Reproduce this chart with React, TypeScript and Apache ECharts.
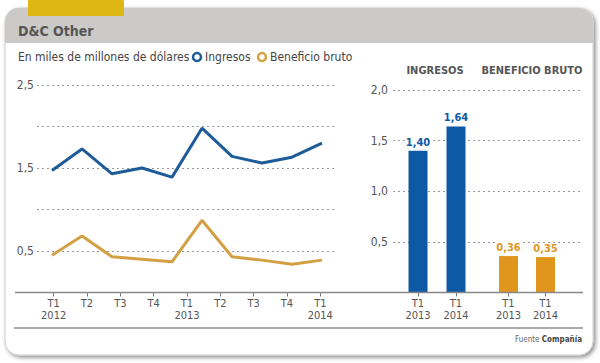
import React, { useEffect, useRef } from "react";
import * as echarts from "echarts";

const dataQuarters = ["T1 2012", "T2 2012", "T3 2012", "T4 2012", "T1 2013", "T2 2013", "T3 2013", "T4 2013", "T1 2014", "T2 2014"];
const tickLabels = ["T1\n2012", "T2", "T3", "T4", "T1\n2013", "T2", "T3", "T4", "T1\n2014"];
const ingresos = [1.47, 1.73, 1.43, 1.5, 1.39, 1.98, 1.64, 1.56, 1.63, 1.8];
const beneficio = [0.45, 0.68, 0.43, 0.4, 0.37, 0.87, 0.43, 0.39, 0.34, 0.39];
const barCats = ["T1\n2013", "T1\n2014"];
const barIngresos = [1.4, 1.64];
const barBeneficio = [0.36, 0.35];
const lineTicks = [2.5, 1.5, 0.5];

const FONT = "'Liberation Sans Narrow', 'DejaVu Sans Condensed', 'Roboto', sans-serif";
const BLUE_LINE = "#1d5c98";
const GOLD_LINE = "#d3a043";
const BLUE_BAR = "#0e59a6";
const GOLD_BAR = "#e0961c";
const TXT = "#555";

const fmt = (v: number, d: number) => v.toFixed(d).replace(".", ",");

export default function App() {
  const ref = useRef<HTMLDivElement>(null);
  useEffect(() => {
    if (!ref.current) return;
    const chart = echarts.init(ref.current, null, { renderer: "svg" });
    const splitLine = { show: true, lineStyle: { color: "#999", type: [2, 3] as any, width: 1 } };
    const xLabel = { color: TXT, fontSize: 11, lineHeight: 12, fontFamily: FONT, margin: 5 };
    const xTick = { show: true, alignWithLabel: true, length: 4, lineStyle: { color: "#777" } };
    chart.setOption({
      animation: false,
      textStyle: { fontFamily: FONT },
      grid: [
        { left: 37, right: 263, top: 85, bottom: 70.5 },
        { left: 393, right: 20, top: 90, bottom: 70.5 },
        { left: 399, right: 125, top: 90, bottom: 70.5 },
        { left: 490, right: 36, top: 90, bottom: 70.5 },
      ],
      xAxis: [
        { type: "category", gridIndex: 0, data: tickLabels, boundaryGap: true, axisLine: { show: false }, axisTick: xTick, axisLabel: xLabel },
        { type: "category", gridIndex: 0, data: dataQuarters, boundaryGap: true, show: false },
        { type: "value", gridIndex: 1, show: false },
        { type: "category", gridIndex: 2, data: barCats, boundaryGap: true, axisLine: { show: false }, axisTick: xTick, axisLabel: xLabel },
        { type: "category", gridIndex: 3, data: barCats, boundaryGap: true, axisLine: { show: false }, axisTick: xTick, axisLabel: xLabel },
      ],
      yAxis: [
        {
          type: "value", gridIndex: 0, min: 0, max: 2.5, interval: 0.5,
          axisLine: { show: false }, axisTick: { show: false }, splitLine,
          axisLabel: { color: TXT, fontSize: 12, fontFamily: FONT, margin: 3, formatter: (v: number) => (lineTicks.some((t) => Math.abs(t - v) < 1e-6) ? fmt(v, 1) : "") },
        },
        {
          type: "value", gridIndex: 1, min: 0, max: 2, interval: 0.5,
          axisLine: { show: false }, axisTick: { show: false }, splitLine,
          axisLabel: { color: TXT, fontSize: 12, fontFamily: FONT, margin: 5, formatter: (v: number) => (v === 0 ? "" : fmt(v, 1)) },
        },
        { type: "value", gridIndex: 2, min: 0, max: 2, show: false, splitLine: { show: false } },
        { type: "value", gridIndex: 3, min: 0, max: 2, show: false, splitLine: { show: false } },
      ],
      series: [
        { name: "Ingresos", type: "line", xAxisIndex: 1, yAxisIndex: 0, data: ingresos, symbol: "none", lineStyle: { color: BLUE_LINE, width: 3 }, itemStyle: { color: BLUE_LINE }, z: 3 },
        { name: "Beneficio bruto", type: "line", xAxisIndex: 1, yAxisIndex: 0, data: beneficio, symbol: "none", lineStyle: { color: GOLD_LINE, width: 3 }, itemStyle: { color: GOLD_LINE }, z: 3 },
        {
          name: "Ingresos T1", type: "bar", xAxisIndex: 3, yAxisIndex: 2, data: barIngresos, barWidth: 19, itemStyle: { color: BLUE_BAR },
          label: { show: true, position: "top", distance: 3, color: BLUE_BAR, fontWeight: "bold", fontSize: 11, fontFamily: FONT, backgroundColor: "#fff", padding: [0, 1], formatter: (p: any) => fmt(p.value, 2) },
        },
        {
          name: "Beneficio T1", type: "bar", xAxisIndex: 4, yAxisIndex: 3, data: barBeneficio, barWidth: 19, itemStyle: { color: GOLD_BAR },
          label: { show: true, position: "top", distance: 3, color: GOLD_BAR, fontWeight: "bold", fontSize: 11, fontFamily: FONT, backgroundColor: "#fff", padding: [0, 1], formatter: (p: any) => fmt(p.value, 2) },
        },
      ],
      graphic: [
        { type: "rect", z: -20, shape: { x: 5, y: 8, width: 588, height: 347, r: 14 }, style: { fill: "#fff", stroke: "#d0d0d0", lineWidth: 1, shadowBlur: 4, shadowOffsetX: 2, shadowOffsetY: 2, shadowColor: "rgba(0,0,0,0.45)" } },
        { type: "rect", z: -19, shape: { x: 5, y: 8, width: 588, height: 35, r: [14, 14, 0, 0] }, style: { fill: "#cbcac8" } },
        { type: "rect", z: -18, shape: { x: 28, y: 0, width: 96, height: 16 }, style: { fill: "#dfb714" } },
        { type: "text", x: 18, y: 31, style: { text: "D&C Other", fill: "#555", font: `bold 14px ${FONT}`, textVerticalAlign: "middle" } },
        { type: "text", x: 18, y: 57, style: { text: "En miles de millones de dólares", fill: "#444", font: `12px ${FONT}`, textVerticalAlign: "middle" } },
        { type: "circle", shape: { cx: 197, cy: 57, r: 4 }, style: { fill: "#fff", stroke: BLUE_LINE, lineWidth: 2.5 } },
        { type: "text", x: 205, y: 57, style: { text: "Ingresos", fill: "#444", font: `12px ${FONT}`, textVerticalAlign: "middle" } },
        { type: "circle", shape: { cx: 262, cy: 57, r: 4 }, style: { fill: "#fff", stroke: GOLD_LINE, lineWidth: 2.5 } },
        { type: "text", x: 270, y: 57, style: { text: "Beneficio bruto", fill: "#444", font: `12px ${FONT}`, textVerticalAlign: "middle" } },
        { type: "text", x: 435, y: 70, style: { text: "INGRESOS", fill: "#555", font: `bold 11px ${FONT}`, textAlign: "center", textVerticalAlign: "middle" } },
        { type: "text", x: 532, y: 70, style: { text: "BENEFICIO BRUTO", fill: "#555", font: `bold 11px ${FONT}`, textAlign: "center", textVerticalAlign: "middle" } },
        { type: "line", z: 5, shape: { x1: 15, y1: 292.5, x2: 583, y2: 292.5 }, style: { stroke: "#888", lineWidth: 1.5 } },
        { type: "line", shape: { x1: 14, y1: 328, x2: 583, y2: 328 }, style: { stroke: "#aaa", lineWidth: 2 } },
        {
          type: "text", x: 582, y: 339,
          style: {
            text: "{a|Fuente }{b|Compañía}", textAlign: "right", textVerticalAlign: "middle",
            rich: { a: { fontSize: 8, fill: "#666", fontFamily: FONT }, b: { fontSize: 8, fill: "#444", fontWeight: "bold", fontFamily: FONT } },
          } as any,
        },
      ],
    });
    return () => chart.dispose();
  }, []);
  return <div ref={ref} style={{ position: "fixed", left: 0, top: 0, width: 600, height: 363, background: "#fff" }} />;
}
